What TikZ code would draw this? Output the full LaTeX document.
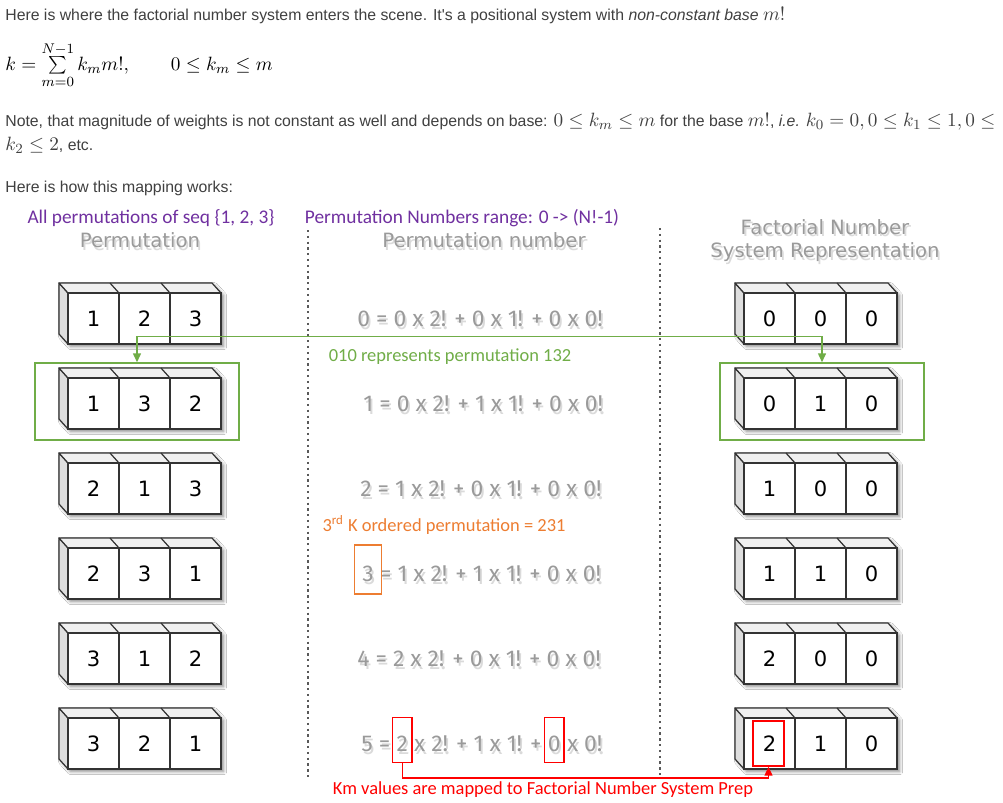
\documentclass[tikz,border=0pt]{standalone}
\usepackage{fontspec}
\usetikzlibrary{positioning,arrows.meta,shadows.blur}
\newfontfamily\bodyfont{Liberation Sans}
\newfontfamily\notefont{Carlito}
\newfontfamily\roundfont{DejaVu Sans}
\newfontfamily\fmlfont{Fira Sans}
\definecolor{notepurple}{HTML}{7030A0}
\definecolor{notegreen}{HTML}{70AD47}
\definecolor{noteorange}{HTML}{ED7D31}
\definecolor{notered}{HTML}{FF0000}
\definecolor{ttlgray}{HTML}{9A9A9A}
\definecolor{shdgray}{HTML}{DADADA}
\definecolor{bodytext}{HTML}{404040}
\newcommand\shd[1]{\rlap{\raisebox{-1.6pt}{\kern1pt\textcolor{shdgray}{#1}}}#1}
\newcommand\pmath[1]{{\fontsize{11}{12}\selectfont$#1$}}

\begin{document}
\begin{tikzpicture}[x=0.02cm,y=-0.02cm,node distance=3.2pt,
  para/.style={anchor=west,inner sep=0pt,font=\bodyfont\fontsize{9}{11}\selectfont,text=bodytext},
  note/.style={inner sep=0pt,font=\notefont\fontsize{10.5}{12}\selectfont},
  ttl/.style={inner sep=0pt,font=\roundfont\fontsize{11.2}{13.6}\selectfont,text=ttlgray,align=center},
  fml/.style={inner sep=0pt,font=\fmlfont\fontsize{13}{15}\selectfont,text=ttlgray,text height=9.5pt,text depth=2.5pt},
  cell/.style={draw=black!80,fill=white,line width=0.7pt,minimum size=1.02cm,inner sep=0pt,font=\roundfont\fontsize{12}{14}\selectfont},
  side/.style={draw=black!80,fill=black!13,line width=0.7pt,line join=round},
  lid/.style={draw=black!80,fill=black!6,line width=0.7pt,line join=round},
  sep/.style={dotted,line width=1.3pt,black!65},
  grnbox/.style={draw=notegreen,line width=0.9pt,minimum width=4.08cm,minimum height=1.54cm},
  grnline/.style={draw=notegreen,line width=0.7pt,{Triangle[length=5pt,width=4.5pt]}-{Triangle[length=5pt,width=4.5pt]}},
  redbox/.style={draw=notered,line width=0.9pt,minimum width=0.39cm,minimum height=0.9cm},
  redline/.style={draw=notered,line width=0.7pt,-{Triangle[length=5pt,width=4.5pt]}},
  ornbox/.style={draw=noteorange,line width=0.9pt,minimum width=0.54cm,minimum height=0.98cm}]
  \useasboundingbox (0,0) rectangle (1003,802);
  \fill[white] (0,0) rectangle (1003,802);

  % text above the picture
  \node[para] (intro) at (5,15) {Here is where the factorial number system enters the scene. It's a positional system with \textit{non-constant base} \pmath{m!}};
  \node[anchor=west,inner sep=0pt] (sumk) at (5,65) {\fontsize{11}{13}\selectfont$k=\sum\limits_{m=0}^{N-1}k_m m!,\qquad 0\le k_m\le m$};
  \node[para] (note1) at (5,122) {Note, that magnitude of weights is not constant as well and depends on base: \pmath{0\le k_m\le m} for the base \pmath{m!}, \textit{i.e.} \pmath{k_0=0,0\le k_1\le 1,0\le}};
  \node[para] (note2) at (5,145) {\pmath{k_2\le 2}, etc.};
  \node[para] (howto) at (5,188) {Here is how this mapping works:};

  % column heads
  \node[note,text=notepurple,font=\notefont\fontsize{11}{13}\selectfont] (allperm) at (151,218) {All permutations of seq \{1, 2, 3\}};
  \node[note,text=notepurple,font=\notefont\fontsize{11}{13}\selectfont] (numrange) at (462,218) {Permutation Numbers range: 0 -> (N!-1)};
  \node[ttl] (permttl) at (140,242) {\shd{Permutation}};
  \node[ttl] (numttl) at (484,242) {\shd{Permutation number}};
  \node[ttl] (fnsttl) at (825,242) {\shd{Factorial Number}\\\shd{System Representation}};

  \draw[sep] (308,230) -- (308,777);
  \draw[sep] (660,228) -- (660,777);

  % blocks, one row per permutation
  \foreach \a/\b/\c/\p/\q/\r [count=\i from 0] in {1/2/3/0/0/0,1/3/2/0/1/0,2/1/3/1/0/0,2/3/1/1/1/0,3/1/2/2/0/0,3/2/1/2/1/0}{
    \pgfmathsetmacro\yt{293+85*\i}
    \foreach \x in {68,744}{
      \fill[white,blur shadow={shadow xshift=1.5pt,shadow yshift=-1.5pt,shadow blur steps=6,shadow opacity=45}]
        (\x-9,\yt-10) -- (\x+144,\yt-10) -- (\x+153,\yt) -- (\x+153,\yt+51) -- (\x,\yt+51) -- (\x-9,\yt+41) -- cycle;
      \draw[side] (\x,\yt) -- ++(-9,-10) -- ++(0,51) -- ++(9,10) -- cycle;
      \draw[lid] (\x,\yt) -- ++(-9,-10) -- ++(153,0) -- ++(9,10) -- cycle;
      \draw[lid] (\x+51,\yt) -- ++(-9,-10) (\x+102,\yt) -- ++(-9,-10);
    }
    \node[cell] (l\i-1) at (93.5,\yt+25.5) {\a};
    \node[cell] (l\i-2) at (144.5,\yt+25.5) {\b};
    \node[cell] (l\i-3) at (195.5,\yt+25.5) {\c};
    \node[cell] (r\i-1) at (769.5,\yt+25.5) {\p};
    \node[cell] (r\i-2) at (820.5,\yt+25.5) {\q};
    \node[cell] (r\i-3) at (871.5,\yt+25.5) {\r};
  }

  % permutation numbers
  \node[fml,anchor=base west] (f0) at (357,326.5) {\shd{0 = 0 x 2! + 0 x 1! + 0 x 0!}};
  \node[fml,anchor=base west] (f1) at (363,411.5) {\shd{1 = 0 x 2! + 1 x 1! + 0 x 0!}};
  \node[fml,anchor=base west] (f2) at (360,496.5) {\shd{2 = 1 x 2! + 0 x 1! + 0 x 0!}};
  \node[fml,anchor=base west] (f3a) at (362,581.5) {\shd{3}};
  \node[fml,base right=of f3a] (f3b) {\shd{= 1 x 2! + 1 x 1! + 0 x 0!}};
  \node[fml,anchor=base west] (f4) at (357,666.5) {\shd{4 = 2 x 2! + 0 x 1! + 0 x 0!}};
  \node[fml,anchor=base west] (f5a) at (361,751.5) {\shd{5 =}};
  \node[fml,base right=of f5a] (f5b) {\shd{2}};
  \node[fml,base right=of f5b] (f5c) {\shd{x 2! + 1 x 1! +}};
  \node[fml,base right=of f5c] (f5d) {\shd{0}};
  \node[fml,base right=of f5d] (f5e) {\shd{x 0!}};

  % highlighted example 132
  \node[grnbox] (gl) at (137,401.5) {};
  \node[grnbox] (gr) at (822,401.5) {};
  \draw[grnline] (gl.north) -- ++(0,-26) -| (gr.north);
  \node[note,text=notegreen] (grntxt) at (450,357) {010 represents permutation 132};

  % 3rd permutation
  \node[note,text=noteorange] (orntxt) at (444,525) {3\textsuperscript{rd} K ordered permutation = 231};
  \node[ornbox] (ob) at ([yshift=3.5pt]f3a.center) {};

  % km values
  \node[redbox] (rk2) at ([yshift=3pt]f5b.center) {};
  \node[redbox] (rk0) at ([yshift=3pt]f5d.center) {};
  \node[redbox,minimum width=0.62cm] (rkb) at (768.5,743.5) {};
  \coordinate (kmbend) at (0,778);
  \draw[redline] (rk2.south) |- (kmbend -| rkb.south) -- (rkb.south);
  \node[note,text=notered] (kmtxt) at (543,790) {Km values are mapped to Factorial Number System Prep};
\end{tikzpicture}
\end{document}
